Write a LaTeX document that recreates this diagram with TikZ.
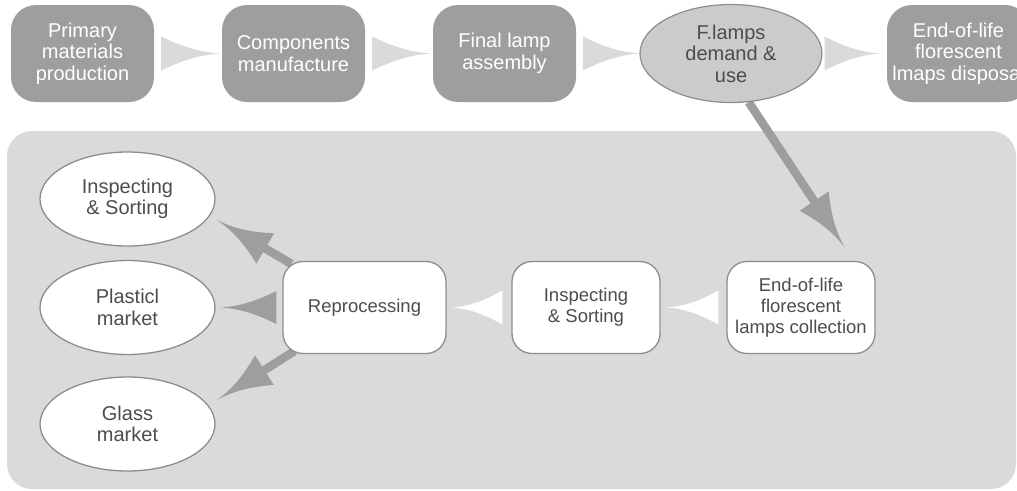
\documentclass[tikz,border=0pt]{standalone}
\usepackage{fontspec}
\setmainfont{Liberation Sans}
\usetikzlibrary{arrows.meta,shapes.geometric,calc,backgrounds}
\definecolor{boxgray}{RGB}{157,158,160}
\definecolor{panelgray}{RGB}{217,218,220}
\definecolor{ellgray}{RGB}{202,203,205}
\definecolor{edgegray}{RGB}{140,141,143}
\definecolor{txtgray}{RGB}{77,77,79}

\pgfdeclarearrow{
  name = Cone,
  parameters = {\the\pgfarrowlength,\the\pgfarrowwidth},
  setup code = {
    \pgfarrowssettipend{0pt}
    \pgfarrowssetlineend{-0.6\pgfarrowlength}
    \pgfarrowssetbackend{-\pgfarrowlength}
    \pgfarrowssavethe\pgfarrowlength
    \pgfarrowssavethe\pgfarrowwidth
  },
  drawing code = {
    \pgfpathmoveto{\pgfqpoint{0pt}{0pt}}
    \pgfpathcurveto{\pgfqpoint{-0.4\pgfarrowlength}{0.04\pgfarrowwidth}}{\pgfqpoint{-0.7\pgfarrowlength}{0.25\pgfarrowwidth}}{\pgfqpoint{-\pgfarrowlength}{0.5\pgfarrowwidth}}
    \pgfpathlineto{\pgfqpoint{-\pgfarrowlength}{-0.5\pgfarrowwidth}}
    \pgfpathcurveto{\pgfqpoint{-0.7\pgfarrowlength}{-0.25\pgfarrowwidth}}{\pgfqpoint{-0.4\pgfarrowlength}{-0.04\pgfarrowwidth}}{\pgfqpoint{0pt}{0pt}}
    \pgfpathclose
    \pgfusepathqfill
  },
  defaults = {length = 12pt, width = 10pt}
}

% concave wedge: #1 base centre, #2 tip, #3 half height, #4 colour
\newcommand\wedgearrow[4]{%
  \fill[#4] let \p1=#1, \p2=#2, \n1={\x2-\x1} in
    (\x1,\y1+#3) .. controls (\x1+0.3*\n1,\y1+0.5*#3) and (\x1+0.6*\n1,\y1+0.1*#3) .. (\x2,\y1)
    .. controls (\x1+0.6*\n1,\y1-0.1*#3) and (\x1+0.3*\n1,\y1-0.5*#3) .. (\x1,\y1-#3) -- cycle;}

\begin{document}
\begin{tikzpicture}[x=1pt,y=-1pt,
  bigtxt/.style={font=\fontsize{20}{21.5}\selectfont, align=center},
  smalltxt/.style={font=\fontsize{18.5}{21}\selectfont, align=center},
  topbox/.style={bigtxt, fill=boxgray, text=white, rounded corners=25pt,
    minimum width=143pt, minimum height=97pt, inner sep=0pt},
  topell/.style={bigtxt, ellipse, fill=ellgray, draw=edgegray, line width=1.2pt,
    text=txtgray, minimum width=182pt, minimum height=98pt, inner sep=0pt},
  wbox/.style={smalltxt, fill=white, draw=edgegray, line width=1.3pt, rounded corners=20pt,
    text=txtgray, minimum height=92pt, inner sep=0pt},
  well/.style={bigtxt, ellipse, fill=white, draw=edgegray, line width=1.3pt,
    text=txtgray, minimum width=175pt, minimum height=94pt, inner sep=0pt},
  bigarrow/.style={color=boxgray, line width=8.5pt, -{Cone[length=56pt,width=35pt]}},
]
\useasboundingbox (0,0) rectangle (1017,490);
\clip (0,0) rectangle (1017,490);

% top row
\node[topbox] (p1) at (82.5,53.5) {Primary\\materials\\production};
\node[topbox] (p2) at (293.5,53.5) {Components\\manufacture};
\node[topbox] (p3) at (504.5,53.5) {Final lamp\\assembly};
\node[topell] (p4) at (731,53.5) {F.lamps\\demand \&\\use};
\node[topbox] (p5) at (958.5,53.5) {End-of-life\\florescent\\lmaps disposal};

% lower row
\node[wbox, minimum width=163pt] (rep) at (364.5,307.5) {Reprocessing};
\node[wbox, minimum width=148pt] (ins) at (586,307.5) {Inspecting\\\& Sorting};
\node[wbox, minimum width=148pt] (col) at (801,307.5) {End-of-life\\florescent\\lamps collection};
\node[well] (e1) at (127.5,199) {Inspecting\\\& Sorting};
\node[well] (e2) at (127.5,307.5) {Plasticl\\market};
\node[well] (e3) at (127.5,424) {Glass\\market};

\begin{scope}[on background layer]
  \fill[panelgray, rounded corners=25pt] (7,131) rectangle (1016,489);
  % top chevrons
  \wedgearrow{($(p1.east)+(7,0)$)}{($(p2.west)+(-2,0)$)}{17pt}{panelgray}
  \wedgearrow{($(p2.east)+(7,0)$)}{($(p3.west)+(-2,0)$)}{17pt}{panelgray}
  \wedgearrow{($(p3.east)+(7,0)$)}{($(p4.west)+(0,0)$)}{17pt}{panelgray}
  \wedgearrow{($(p4.east)+(2,0)$)}{($(p5.west)+(-7,0)$)}{17pt}{panelgray}
  % lower white chevrons
  \wedgearrow{($(col.west)+(-8,0)$)}{($(ins.east)+(7,0)$)}{17pt}{white}
  \wedgearrow{($(ins.west)+(-9,0)$)}{($(rep.east)+(6,0)$)}{17pt}{white}
  % grey arrows
  \wedgearrow{($(rep.west)+(-6,0)$)}{($(e2.east)+(5.5,0)$)}{16.5pt}{boxgray}
  \draw[bigarrow] (p4.-70) -- ($(col.north)+(44,-13)$);
  \draw[bigarrow] ($(rep.north west)+(9,3)$) -- ($(e1.center)+(89.5,21)$);
  \draw[bigarrow] ($(rep.south west)+(12,-3)$) -- ($(e3.center)+(89.5,-24)$);
\end{scope}
\end{tikzpicture}
\end{document}
